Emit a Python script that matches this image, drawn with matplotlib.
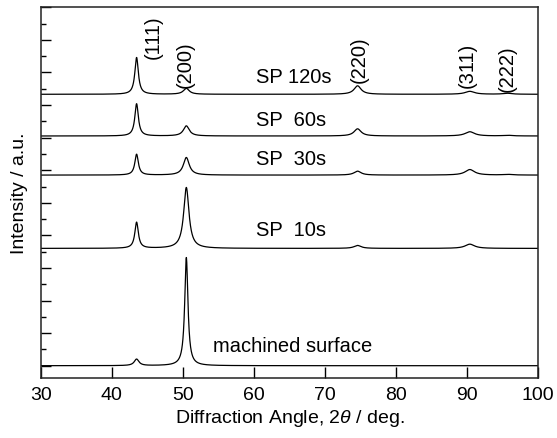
import numpy as np
import matplotlib
matplotlib.use('Agg')
import matplotlib.pyplot as plt
from matplotlib.ticker import MultipleLocator

plt.rcParams['font.family'] = ['Liberation Sans', 'DejaVu Sans']
plt.rcParams['mathtext.fontset'] = 'custom'
plt.rcParams['mathtext.it'] = 'Liberation Sans:italic'
plt.rcParams['mathtext.rm'] = 'Liberation Sans'

# peak data
hkl_labels = ['(111)', '(200)', '(220)', '(311)', '(222)']
peak_pos = [43.5, 50.5, 74.6, 90.4, 95.7]
label_y = [10.1, 9.28, 9.42, 9.24, 9.15]
label_x = [45.8, 50.3, 74.8, 90.1, 95.7]

samples = ['machined surface', 'SP  10s', 'SP  30s', 'SP  60s', 'SP 120s']
offsets = [0.0, 3.6, 5.85, 7.05, 8.33]
heights = [
    [0.20, 3.32, 0.00, 0.00, 0.00],
    [0.80, 1.87, 0.09, 0.13, 0.00],
    [0.64, 0.54, 0.12, 0.17, 0.02],
    [0.99, 0.31, 0.22, 0.13, 0.02],
    [1.13, 0.18, 0.26, 0.09, 0.03],
]
widths = [
    [0.8, 0.55, 1.2, 1.6, 1.5],
    [0.6, 0.9, 1.2, 1.6, 1.5],
    [0.6, 1.0, 1.2, 1.6, 1.5],
    [0.6, 1.0, 1.2, 1.6, 1.5],
    [0.6, 1.0, 1.2, 1.6, 1.5],
]
text_x = [54.3, 60.3, 60.3, 60.3, 60.3]
text_y = [0.63, 4.19, 6.37, 7.57, 8.89]

two_theta = np.linspace(30, 100, 3501)

fig = plt.figure(figsize=(5.57, 4.39), dpi=100)
ax = fig.add_axes([0.073, 0.1367, 0.893, 0.8444])

for i in range(len(samples)):
    y = np.zeros_like(two_theta) + offsets[i]
    for p, h, w in zip(peak_pos, heights[i], widths[i]):
        g = w / 2
        y += h * g**2 / ((two_theta - p)**2 + g**2)
    ax.plot(two_theta, y, color='black', lw=0.9)
    ax.text(text_x[i], text_y[i], samples[i], fontsize=14.5, ha='left', va='center')

for lx, ly, lab in zip(label_x, label_y, hkl_labels):
    ax.text(lx, ly, lab, fontsize=14.5, rotation=90, ha='center', va='center')

ax.set_xlim(30, 100)
ax.set_ylim(-0.377, 11.0)
ax.xaxis.set_major_locator(MultipleLocator(10))
ax.yaxis.set_major_locator(MultipleLocator(1))
ax.yaxis.set_minor_locator(MultipleLocator(0.5))
ax.tick_params(axis='x', direction='in', length=8, width=1, labelsize=14, pad=6)
ax.tick_params(axis='y', which='major', direction='in', length=7, width=1, labelleft=False)
ax.tick_params(axis='y', which='minor', direction='in', length=3.5, width=1)
for s in ax.spines.values():
    s.set_linewidth(1.1)
    s.set_color('#222222')

ax.set_xlabel(r'Diffraction Angle, $2\theta$ / deg.', fontsize=14, labelpad=3)
ax.set_ylabel('Intensity / a.u.', fontsize=14, labelpad=6)

fig.savefig('out.png', dpi=100)
